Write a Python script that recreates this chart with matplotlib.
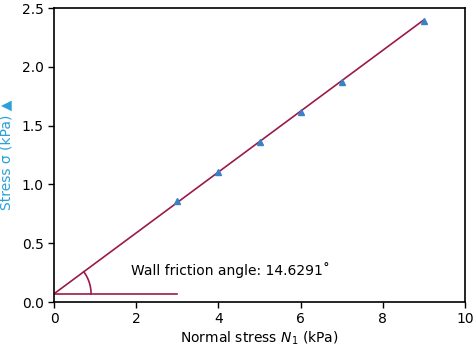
import numpy as np
import matplotlib
matplotlib.use("Agg")
import matplotlib.pyplot as plt

# Measured points (normal stress vs shear stress)
normal_stress = [3, 4, 5, 6, 7, 9]
shear_stress = [0.858, 1.107, 1.363, 1.615, 1.875, 2.394]

# Fitted wall yield locus
fit_x = [0, 9]
fit_y = [0.07, 2.40]
angle_label = "Wall friction angle: 14.6291\u02da"

line_color = "#9b1a4c"
marker_color = "#3a82c4"
label_color = "#2aa0d8"

fig = plt.figure(figsize=(4.74, 3.52), dpi=100)
ax = fig.add_axes([0.114, 0.142, 0.867, 0.835])

ax.plot(fit_x, fit_y, color=line_color, lw=1.2, zorder=2)
ax.plot(normal_stress, shear_stress, ls="none", marker="^", ms=4,
        color=marker_color, zorder=3)

# horizontal reference line for the angle
ax.plot([0, 3], [fit_y[0], fit_y[0]], color=line_color, lw=1.2)

ax.set_xlim(0, 10)
ax.set_ylim(0, 2.5)

# angle arc, circular on screen
fig.canvas.draw()
p0 = ax.transData.transform((fit_x[0], fit_y[0]))
p1 = ax.transData.transform((fit_x[1], fit_y[1]))
theta = np.arctan2(p1[1] - p0[1], p1[0] - p0[0])
r = 37
t = np.linspace(0, theta, 40)
pts = np.column_stack([p0[0] + r * np.cos(t), p0[1] + r * np.sin(t)])
arc = ax.transData.inverted().transform(pts)
ax.plot(arc[:, 0], arc[:, 1], color=line_color, lw=1.2)

ax.text(1.87, 0.27, angle_label, fontsize=10, va="center", ha="left")

ax.set_xticks([0, 2, 4, 6, 8, 10])
ax.set_yticks([0.0, 0.5, 1.0, 1.5, 2.0, 2.5])
ax.set_yticklabels(["0.0", "0.5", "1.0", "1.5", "2.0", "2.5"])
ax.tick_params(direction="out", length=4, width=1, labelsize=10, top=False, right=False)
for s in ax.spines.values():
    s.set_linewidth(1.2)

ax.set_xlabel(r"Normal stress $N_1$ (kPa)", fontsize=10, labelpad=2)
ax.set_ylabel("Stress \u03c3 (kPa) \u25b2", fontsize=10, color=label_color, labelpad=6)

fig.savefig("out.png", dpi=100)
